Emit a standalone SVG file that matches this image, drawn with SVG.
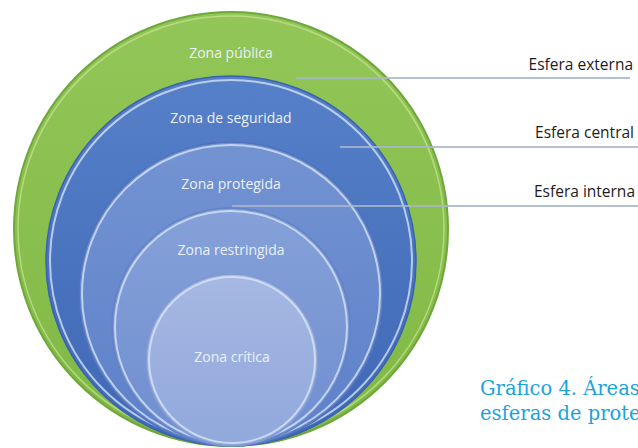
<svg xmlns="http://www.w3.org/2000/svg" width="638" height="448" viewBox="0 0 638 448">
<defs>
<style>
.zl{font-family:"Open Sans","Liberation Sans",sans-serif;font-size:14px;fill:#e9f0f8;text-anchor:middle}
.el{font-family:"Open Sans","Liberation Sans",sans-serif;font-size:15.5px;fill:#1c1c1c;text-anchor:end}
.cap{font-family:"DejaVu Serif","Liberation Serif",serif;font-size:19.5px;fill:#1aa3dd}
.ln{stroke:#a7b6cc;stroke-width:2;fill:none}
.rim{fill:none;stroke:#dce8f8;stroke-opacity:.75;stroke-width:2}
</style>
<linearGradient id="gG" x1="0" y1="0" x2="0" y2="1">
<stop offset="0" stop-color="#93c658"/><stop offset="1" stop-color="#7fb844"/>
</linearGradient>
<linearGradient id="gB1" x1="0" y1="0" x2="0" y2="1">
<stop offset="0" stop-color="#5680c8"/><stop offset="1" stop-color="#3f67b6"/>
</linearGradient>
<linearGradient id="gB2" x1="0" y1="0" x2="0" y2="1">
<stop offset="0" stop-color="#7393d2"/><stop offset="1" stop-color="#5d80c8"/>
</linearGradient>
<linearGradient id="gB3" x1="0" y1="0" x2="0" y2="1">
<stop offset="0" stop-color="#86a1d9"/><stop offset="1" stop-color="#6f8ed0"/>
</linearGradient>
<linearGradient id="gB4" x1="0" y1="0" x2="0" y2="1">
<stop offset="0" stop-color="#a6b8e3"/><stop offset="1" stop-color="#91a8dc"/>
</linearGradient>
</defs>
<rect width="638" height="448" fill="#ffffff"/>
<g id="zona-publica">
<circle cx="231" cy="229" r="217" fill="url(#gG)" stroke="#6ea73a" stroke-width="2"/>
<circle cx="231" cy="229" r="213" fill="none" stroke="#d6eaa0" stroke-opacity=".6" stroke-width="1.5"/>
<text class="zl" x="231" y="58">Zona pública</text>
</g>
<g id="zona-seguridad">
<circle cx="231" cy="261" r="185" fill="url(#gB1)" stroke="#3a62b0" stroke-width="1.5"/>
<circle cx="231" cy="261" r="181" class="rim" stroke-opacity=".45"/>
<text class="zl" x="231" y="123">Zona de seguridad</text>
</g>
<g id="zona-protegida">
<circle cx="231" cy="294" r="152" fill="url(#gB2)" stroke="#4f72bb" stroke-width="1.5"/>
<circle cx="231" cy="294" r="149" class="rim" stroke-opacity=".6"/>
<text class="zl" x="231" y="189">Zona protegida</text>
</g>
<g id="zona-restringida">
<circle cx="231" cy="327" r="119" fill="url(#gB3)" stroke="#6282c6" stroke-width="1.5"/>
<circle cx="231" cy="327" r="116" class="rim" stroke-opacity=".65"/>
<text class="zl" x="231" y="255">Zona restringida</text>
</g>
<g id="zona-critica">
<circle cx="232" cy="360" r="86" fill="url(#gB4)" stroke="#7f98d2" stroke-width="1.5"/>
<circle cx="232" cy="360" r="83" class="rim" stroke="#f4f8ff" stroke-opacity=".85"/>
<text class="zl" x="232" y="362">Zona crítica</text>
</g>
<g id="connectors">
<line class="ln" x1="296" y1="78" x2="630" y2="78" stroke-opacity=".85"/>
<line class="ln" x1="340" y1="147" x2="638" y2="147" stroke-opacity=".85"/>
<line class="ln" x1="232" y1="206" x2="638" y2="206" stroke-opacity=".85"/>
</g>
<g id="labels">
<text class="el" x="633" y="70">Esfera externa</text>
<text class="el" x="634" y="138">Esfera central</text>
<text class="el" x="635" y="197">Esfera interna</text>
</g>
<g id="caption">
<text class="cap" x="480" y="395">Gráfico 4. Áreas</text>
<text class="cap" x="480" y="420">esferas de prote</text>
</g>
</svg>
